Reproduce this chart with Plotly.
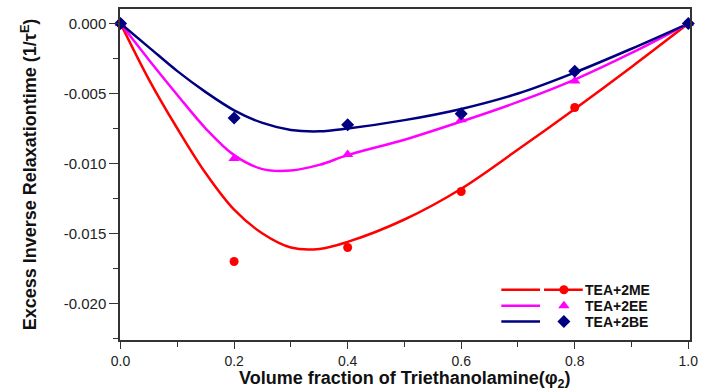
import plotly.graph_objects as go

# measured points
phi = [0.0, 0.2, 0.4, 0.6, 0.8, 1.0]
me_pts = [0.0, -0.0170, -0.0160, -0.0120, -0.0060, 0.0]
ee_pts = [0.0, -0.00965, -0.00935, -0.00688, -0.00411, 0.0]
be_pts = [0.0, -0.00674, -0.00723, -0.00645, -0.00340, 0.0]

# fitted curves
fit_x = [0.0, 0.05, 0.1, 0.15, 0.2, 0.25, 0.3, 0.35, 0.4, 0.5, 0.6, 0.7, 0.8, 0.9, 1.0]
me_fit = [0.0, -0.0040, -0.0075, -0.0107, -0.0133, -0.0150, -0.0160, -0.0161, -0.0156, -0.0140, -0.0118, -0.0090, -0.0061, -0.0031, 0.0]
ee_fit = [0.0, -0.0026, -0.0051, -0.0075, -0.0094, -0.0104, -0.0105, -0.0101, -0.0094, -0.0083, -0.0070, -0.0056, -0.0040, -0.0021, 0.0]
be_fit = [0.0, -0.0017, -0.0034, -0.0049, -0.0062, -0.0071, -0.0076, -0.0077, -0.0075, -0.0069, -0.0061, -0.0050, -0.0035, -0.0018, 0.0]

names = ["TEA+2ME", "TEA+2EE", "TEA+2BE"]
colors = ["#FF0000", "#FF00FF", "#000080"]
symbols = ["circle", "triangle-up", "diamond"]
msizes = [9, 10, 10]

FONT = "Liberation Sans, Arial, sans-serif"

fig = go.Figure()
for fit, c in zip([me_fit, ee_fit, be_fit], colors):
    fig.add_trace(go.Scatter(x=fit_x, y=fit, mode="lines", line=dict(color=c, width=2.5, shape="spline", smoothing=1.0),
                             showlegend=False, hoverinfo="skip"))
for pts, c, s, ms in zip([me_pts, ee_pts, be_pts], colors, symbols, msizes):
    fig.add_trace(go.Scatter(x=phi, y=pts, mode="markers", marker=dict(color=c, symbol=s, size=ms, line=dict(width=0)),
                             showlegend=False, cliponaxis=False))

# custom legend drawn on an overlay axis in pixel units
leg_y = [289.5, 305.5, 321.5]
for i, (n, c, s, ms) in enumerate(zip(names, colors, symbols, msizes)):
    y = leg_y[i]
    fig.add_trace(go.Scatter(x=[504, 543], y=[y, y], mode="lines", line=dict(color=c, width=2.5),
                             xaxis="x2", yaxis="y2", showlegend=False, hoverinfo="skip"))
    if i == 0:
        fig.add_trace(go.Scatter(x=[547, 586], y=[y, y], mode="lines", line=dict(color=c, width=2.5),
                                 xaxis="x2", yaxis="y2", showlegend=False, hoverinfo="skip"))
    fig.add_trace(go.Scatter(x=[567], y=[y], mode="markers", marker=dict(color=c, symbol=s, size=ms),
                             xaxis="x2", yaxis="y2", showlegend=False, hoverinfo="skip"))
    fig.add_annotation(x=586, y=y, xref="x2", yref="y2", text="<b>%s</b>" % n, showarrow=False,
                       xanchor="left", yanchor="middle", font=dict(family=FONT, size=14, color="#111"))

# x-axis title placed below the tick labels (centre ~380 px)
fig.add_annotation(x=0.5, y=-0.12, xref="paper", yref="paper",
                   text="<b>Volume fraction of Triethanolamine(φ<sub>2</sub>)</b>", showarrow=False,
                   xanchor="center", yanchor="middle", font=dict(family=FONT, size=18, color="#111"))

axis_common = dict(showline=True, linecolor="#333", linewidth=1.5, mirror=True, showgrid=False, zeroline=False,
                   ticks="outside", tickwidth=1.2, tickcolor="#333")

fig.update_layout(
    width=705, height=391,
    margin=dict(l=120, r=11, t=7, b=51),
    paper_bgcolor="white", plot_bgcolor="white",
    xaxis=dict(range=[-0.001, 1.003], tickvals=[0.0, 0.2, 0.4, 0.6, 0.8, 1.0],
               ticktext=["0.0", "0.2", "0.4", "0.6", "0.8", "1.0"], ticklen=7,
               tickfont=dict(family=FONT, size=14, color="#222"),
               minor=dict(dtick=0.1, tick0=0, ticks="outside", ticklen=5, tickcolor="#333"),
               **axis_common),
    yaxis=dict(range=[-0.02261, 0.00104], tickvals=[0.0, -0.005, -0.010, -0.015, -0.020],
               ticktext=["0.000", "-0.005", "-0.010", "-0.015", "-0.020"], ticklen=9,
               tickfont=dict(family=FONT, size=15, color="#222"),
               minor=dict(dtick=0.0025, tick0=0, ticks="outside", ticklen=5, tickcolor="#333"),
               title=dict(text="<b>Excess Inverse Relaxationtime (1/τ<sup>E</sup>)</b>",
                          font=dict(family=FONT, size=18, color="#111"), standoff=22),
               **axis_common),
    xaxis2=dict(overlaying="x", range=[120, 694], visible=False, fixedrange=True),
    yaxis2=dict(overlaying="y", range=[340, 7], visible=False, fixedrange=True),
)

fig.write_html("out.html")
